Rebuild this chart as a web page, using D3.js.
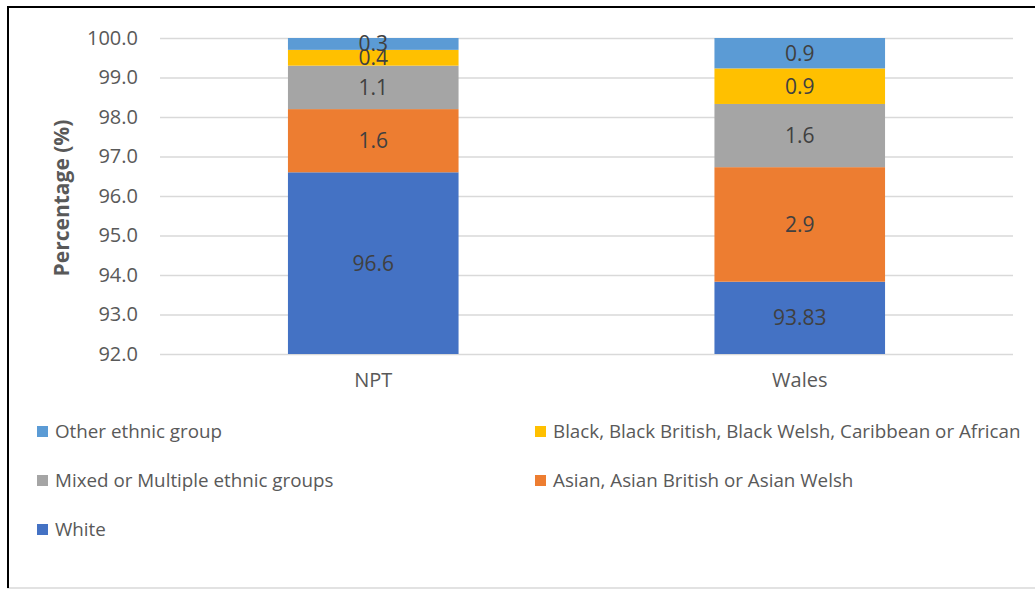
<!DOCTYPE html>
<html><head><meta charset="utf-8">
<script src="https://cdn.jsdelivr.net/npm/d3@7"></script>
<style>body{margin:0;background:#fff}svg{display:block}text{font-family:"Open Sans","Liberation Sans",sans-serif}</style>
</head><body>
<svg id="c" width="1035" height="590"></svg>
<script>
const categories = ["NPT", "Wales"];
const seriesNames = ["White", "Asian, Asian British or Asian Welsh", "Mixed or Multiple ethnic groups", "Black, Black British, Black Welsh, Caribbean or African", "Other ethnic group"];
const white = [96.6, 93.83];
const asian = [1.6, 2.9];
const mixed = [1.1, 1.6];
const black = [0.4, 0.9];
const other = [0.3, 0.9];
const yTicks = [92, 93, 94, 95, 96, 97, 98, 99, 100];
const colors = ["#4472C4", "#ED7D31", "#A5A5A5", "#FFC000", "#5B9BD5"];
const legendOrder = [4, 3, 2, 1, 0];

const values = [white, asian, mixed, black, other];
const svg = d3.select("#c");
// frame
svg.append("rect").attr("x", 8).attr("y", 7).attr("width", 1040).attr("height", 581)
  .attr("fill", "none").attr("stroke", "#d9d9d9").attr("stroke-width", 1.5);
svg.append("path").attr("d", "M8,588 L8,7 L1035,7").attr("fill", "none").attr("stroke", "#000").attr("stroke-width", 2);

const x = d3.scaleBand().domain(categories).range([160, 1013]).paddingInner(0.6).paddingOuter(0.3);
const y = d3.scaleLinear().domain([92, 100]).range([354, 38]).clamp(true);

// gridlines
const gy = svg.append("g").attr("transform", "translate(160,0)")
  .call(d3.axisLeft(y).tickValues(yTicks).tickSize(-853).tickFormat(d3.format(".1f")).tickPadding(22));
gy.select(".domain").remove();
gy.selectAll(".tick line").attr("stroke", "#d9d9d9").attr("stroke-width", 1.5);
gy.selectAll(".tick text").attr("fill", "#595959").style("font-size", "20px");

// stacked bars
const g = svg.append("g");
categories.forEach((c, i) => {
  let base = 92;
  values.forEach((arr, s) => {
    const lo = s === 0 ? 92 : base;
    const top = (s === 0 ? 0 : base) + arr[i];
    const y0 = y(lo), y1 = y(top);
    g.append("rect").attr("x", x(c)).attr("width", x.bandwidth())
      .attr("y", y1).attr("height", y0 - y1).attr("fill", colors[s]);
    g.append("text").attr("x", x(c) + x.bandwidth() / 2).attr("y", (y0 + y1) / 2)
      .attr("dy", "0.35em").attr("text-anchor", "middle").attr("fill", "#404040")
      .style("font-size", "21px").text(arr[i]);
    base = top;
  });
});

// x axis labels
const gx = svg.append("g").attr("transform", "translate(0,354)")
  .call(d3.axisBottom(x).tickSize(0).tickPadding(19));
gx.select(".domain").remove();
gx.selectAll(".tick text").attr("fill", "#595959").style("font-size", "20px");

// y title
svg.append("text").attr("transform", "translate(69,198) rotate(-90)")
  .attr("text-anchor", "middle").attr("fill", "#595959").style("font-size", "21px")
  .style("font-weight", "bold").text("Percentage (%)");

// legend
const legPos = [[37, 431], [535, 431], [37, 480], [535, 480], [37, 529]];
legendOrder.forEach((s, k) => {
  const [lx, ly] = legPos[k];
  svg.append("rect").attr("x", lx).attr("y", ly - 5).attr("width", 11).attr("height", 11).attr("fill", colors[s]);
  svg.append("text").attr("x", lx + 18).attr("y", ly).attr("dy", "0.35em").attr("fill", "#595959")
    .style("font-size", "18.8px").text(seriesNames[s]);
});
</script>
</body></html>
